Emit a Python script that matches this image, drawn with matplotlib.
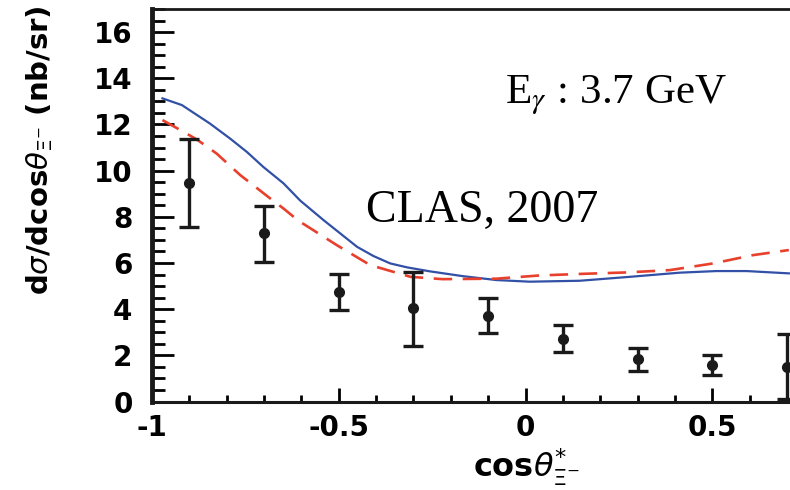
import numpy as np
import matplotlib.pyplot as plt
from matplotlib.ticker import MultipleLocator, FixedLocator

# ---------------- dados ----------------
# pontos CLAS 2007 (E_gamma = 3.7 GeV)
pontos_x = [-0.9, -0.7, -0.5, -0.3, -0.1, 0.1, 0.3, 0.5, 0.7]
pontos_y = [9.47, 7.28, 4.75, 4.03, 3.71, 2.69, 1.84, 1.58, 1.51]
erro_baixo = [1.93, 1.25, 0.79, 1.61, 0.76, 0.56, 0.51, 0.42, 1.42]
erro_cima = [1.92, 1.18, 0.76, 1.59, 0.78, 0.61, 0.46, 0.43, 1.40]

# curva azul (continua)
azul_x = [-0.972, -0.920, -0.845, -0.791, -0.746, -0.702, -0.648, -0.603,
          -0.541, -0.496, -0.451, -0.407, -0.362, -0.317, -0.257, -0.168,
          -0.078, 0.011, 0.145, 0.279, 0.413, 0.511, 0.592, 0.705]
azul_y = [13.13, 12.84, 12.04, 11.39, 10.81, 10.16, 9.45, 8.70,
          7.86, 7.28, 6.70, 6.30, 5.98, 5.81, 5.64, 5.43,
          5.26, 5.19, 5.23, 5.40, 5.58, 5.65, 5.65, 5.55]

# curva vermelha (tracejada)
vermelho_x = [-0.972, -0.920, -0.880, -0.827, -0.764, -0.729, -0.684, -0.648,
              -0.608, -0.568, -0.505, -0.416, -0.308, -0.222, -0.078, 0.038,
              0.154, 0.270, 0.386, 0.502, 0.609, 0.705]
vermelho_y = [12.19, 11.72, 11.35, 10.74, 9.81, 9.37, 8.80, 8.36,
              7.83, 7.42, 6.77, 5.91, 5.40, 5.30, 5.32, 5.46,
              5.53, 5.59, 5.69, 5.98, 6.34, 6.56]

# ---------------- figura ----------------
plt.rcParams['font.family'] = ['DejaVu Sans']
plt.rcParams['mathtext.fontset'] = 'dejavusans'

fig = plt.figure(figsize=(7.9, 4.9), dpi=100)
ax = fig.add_axes([0.1924, 0.1806, 0.9456, 0.801])

ax.plot(azul_x, azul_y, color='#3150a6', linewidth=1.6, solid_joinstyle='round')
ax.plot(vermelho_x, vermelho_y, color='#e8402c', linewidth=1.9, dashes=(7, 4))

ax.errorbar(pontos_x, pontos_y, yerr=[erro_baixo, erro_cima], fmt='o',
            color='#1a1a1a', markersize=7, elinewidth=2.4, capsize=7,
            capthick=2.4, clip_on=False, zorder=5)

ax.set_xlim(-1, 1)
ax.set_ylim(0, 17)

# so os rotulos visiveis (o grafico original esta cortado em 0.7)
ax.xaxis.set_major_locator(FixedLocator([-1, -0.5, 0, 0.5]))
ax.xaxis.set_minor_locator(MultipleLocator(0.1))
ax.yaxis.set_major_locator(MultipleLocator(2))
ax.yaxis.set_minor_locator(MultipleLocator(0.5))

ax.xaxis.set_major_formatter(lambda v, p: '{:g}'.format(v))
ax.yaxis.set_major_formatter(lambda v, p: '{:g}'.format(v))

ax.tick_params(axis='y', which='major', direction='in', length=16, width=2,
               pad=14, labelsize=20)
ax.tick_params(axis='y', which='minor', direction='in', length=9, width=2)
ax.tick_params(axis='x', which='major', direction='in', length=10, width=2,
               pad=9, labelsize=20)
ax.tick_params(axis='x', which='minor', direction='in', length=5, width=2)
for lab in ax.get_xticklabels() + ax.get_yticklabels():
    lab.set_fontweight('bold')

ax.spines['left'].set_linewidth(3.5)
ax.spines['bottom'].set_linewidth(2.2)
ax.spines['top'].set_linewidth(2)
ax.spines['right'].set_linewidth(2)
for s in ax.spines.values():
    s.set_color('#1a1a1a')

ax.set_ylabel(r'd$\sigma$/dcos$\theta_{\Xi^{-}}$ (nb/sr)', fontsize=21,
              fontweight='bold', loc='top')
ax.yaxis.set_label_coords(-0.13, 1.01)
ax.set_xlabel(r'cos$\theta^{*}_{\Xi^{-}}$', fontsize=23, fontweight='bold')
ax.xaxis.set_label_coords(0.502, -0.113)

ax.text(-0.056, 12.92, r'E$_\gamma$ : 3.7 GeV', fontsize=31,
        family=['Liberation Serif'], math_fontfamily='stix', color='black')
ax.text(-0.426, 7.77, 'CLAS, 2007', fontsize=33,
        family=['Liberation Serif'], color='black')

fig.savefig('out.png', dpi=100)
